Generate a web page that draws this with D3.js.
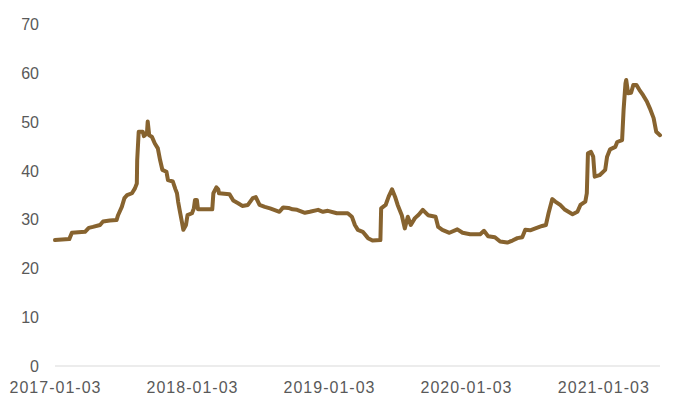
<!DOCTYPE html>
<html>
<head>
<meta charset="utf-8">
<script src="https://cdn.jsdelivr.net/npm/d3@7"></script>
<style>
  html, body { margin: 0; padding: 0; background: #ffffff; }
  svg { display: block; }
  text { font-family: "Liberation Sans", Arial, sans-serif; fill: #595959; }
</style>
</head>
<body>
<svg id="chart" width="674" height="406"></svg>
<script>
// Observation dates and values of the series
const dates = [
  "2017-01-03","2017-02-10","2017-02-17","2017-03-24","2017-04-03","2017-04-14","2017-05-03","2017-05-11",
  "2017-05-29","2017-06-16","2017-06-20","2017-06-30","2017-07-07","2017-07-14","2017-07-27","2017-08-04",
  "2017-08-09","2017-08-10","2017-08-14","2017-08-25","2017-08-28","2017-09-05","2017-09-07","2017-09-11",
  "2017-09-18","2017-09-26","2017-10-04","2017-10-10","2017-10-16","2017-10-27","2017-10-31","2017-11-13",
  "2017-11-20","2017-11-24","2017-11-27","2017-12-01","2017-12-07","2017-12-11","2017-12-18","2017-12-22",
  "2018-01-03","2018-01-08","2018-01-11","2018-01-16","2018-01-19","2018-02-26","2018-03-01","2018-03-09",
  "2018-03-14","2018-03-16","2018-04-13","2018-04-23","2018-05-07","2018-05-17","2018-06-01","2018-06-14",
  "2018-06-22","2018-07-02","2018-07-16","2018-07-30","2018-08-17","2018-08-24","2018-09-03","2018-09-17",
  "2018-09-28","2018-10-10","2018-10-31","2018-11-13","2018-12-05","2018-12-18","2018-12-31",
  "2019-01-24","2019-02-22","2019-03-05","2019-03-13","2019-03-21","2019-04-03","2019-04-17","2019-04-29",
  "2019-05-20","2019-05-22","2019-06-03","2019-06-11","2019-06-20","2019-06-28","2019-07-05","2019-07-16",
  "2019-07-24","2019-08-01","2019-08-09","2019-08-20","2019-08-30","2019-09-10","2019-09-24","2019-10-14",
  "2019-10-21","2019-11-01","2019-11-20","2019-12-11","2019-12-25",
  "2020-01-14","2020-02-10","2020-02-20","2020-03-02","2020-03-20","2020-04-03","2020-04-22","2020-05-06",
  "2020-05-19","2020-06-01","2020-06-09","2020-06-22","2020-07-06","2020-07-24","2020-08-03","2020-08-10",
  "2020-08-20","2020-08-28","2020-09-10","2020-09-23","2020-10-13","2020-10-26","2020-11-03","2020-11-16",
  "2020-11-20","2020-11-23","2020-12-01","2020-12-07","2020-12-11","2020-12-24",
  "2021-01-08","2021-01-13","2021-01-21","2021-02-04","2021-02-09","2021-02-22","2021-02-26","2021-03-03",
  "2021-03-05","2021-03-10","2021-03-18","2021-03-24","2021-04-01","2021-04-09","2021-04-19","2021-04-29",
  "2021-05-07","2021-05-17","2021-05-24","2021-06-03"
];
const values = [
  25.8, 26.0, 27.3, 27.5, 28.3, 28.5, 28.9, 29.6,
  29.8, 29.9, 30.9, 32.6, 34.4, 35.0, 35.4, 36.4,
  37.4, 42.2, 48.0, 48.0, 47.1, 47.7, 50.1, 47.3,
  47.0, 45.6, 44.6, 42.2, 40.2, 39.8, 38.1, 37.8,
  36.2, 35.4, 33.7, 32.0, 29.6, 27.9, 28.9, 30.9,
  31.3, 32.3, 34.0, 34.0, 32.1, 32.1, 35.4, 36.6,
  36.2, 35.4, 35.2, 33.9, 33.3, 32.8, 33.0, 34.4,
  34.6, 33.0, 32.6, 32.3, 31.8, 31.6, 32.5, 32.4,
  32.1, 32.0, 31.4, 31.6, 32.0, 31.6, 31.8,
  31.3, 31.3, 30.6, 28.9, 27.9, 27.5, 26.2, 25.7,
  25.8, 32.3, 33.0, 34.7, 36.2, 34.7, 33.0, 30.9,
  28.2, 30.6, 28.9, 30.3, 31.0, 32.0, 30.9, 30.6,
  28.5, 27.9, 27.3, 28.0, 27.3,
  27.0, 27.0, 27.7, 26.6, 26.4, 25.5, 25.3, 25.7,
  26.2, 26.4, 27.9, 27.8, 28.2, 28.7, 28.9, 31.3,
  34.2, 33.7, 33.0, 32.0, 31.1, 31.6, 33.0, 33.7,
  35.4, 43.6, 43.9, 42.9, 38.8, 39.1,
  40.2, 42.9, 44.4, 44.9, 45.9, 46.3, 52.5, 57.9,
  58.6, 55.9, 56.0, 57.6, 57.6, 56.6, 55.5, 54.2,
  52.8, 50.8, 48.0, 47.3
];
const xTickLabels = ["2017-01-03", "2018-01-03", "2019-01-03", "2020-01-03", "2021-01-03"];
const yTicks = [0, 10, 20, 30, 40, 50, 60, 70];
const domainStart = "2017-01-03";
const domainEnd = "2021-06-03";

const parse = d3.timeParse("%Y-%m-%d");
const series = dates.map((d, i) => ({ date: parse(d), value: values[i] }));

const svg = d3.select("#chart");
const margin = { left: 55, right: 14, top: 24.4, bottom: 40 };
const W = 674, H = 406;

const x = d3.scaleTime()
  .domain([parse(domainStart), parse(domainEnd)])
  .range([margin.left, W - margin.right]);
const y = d3.scaleLinear()
  .domain([0, 70])
  .range([366, margin.top]);

// Baseline axis along the bottom
svg.append("line")
  .attr("x1", x.range()[0]).attr("x2", x.range()[1])
  .attr("y1", y(0)).attr("y2", y(0))
  .attr("stroke", "#d9d9d9").attr("stroke-width", 1);

// Value labels on the left
svg.append("g").selectAll("text")
  .data(yTicks)
  .join("text")
  .attr("x", 39)
  .attr("y", d => y(d))
  .attr("dy", "0.36em")
  .attr("text-anchor", "end")
  .attr("font-size", 16)
  .text(d => d);

// Date labels below the axis
svg.append("g").selectAll("text")
  .data(xTickLabels)
  .join("text")
  .attr("x", d => x(parse(d)))
  .attr("y", 393)
  .attr("text-anchor", "middle")
  .attr("font-size", 16)
  .attr("textLength", 91)
  .attr("lengthAdjust", "spacing")
  .text(d => d);

// The series line
const line = d3.line()
  .x(d => x(d.date))
  .y(d => y(d.value));

svg.append("path")
  .datum(series)
  .attr("fill", "none")
  .attr("stroke", "#87632f")
  .attr("stroke-width", 4)
  .attr("stroke-linejoin", "round")
  .attr("stroke-linecap", "round")
  .attr("d", line);
</script>
</body>
</html>
